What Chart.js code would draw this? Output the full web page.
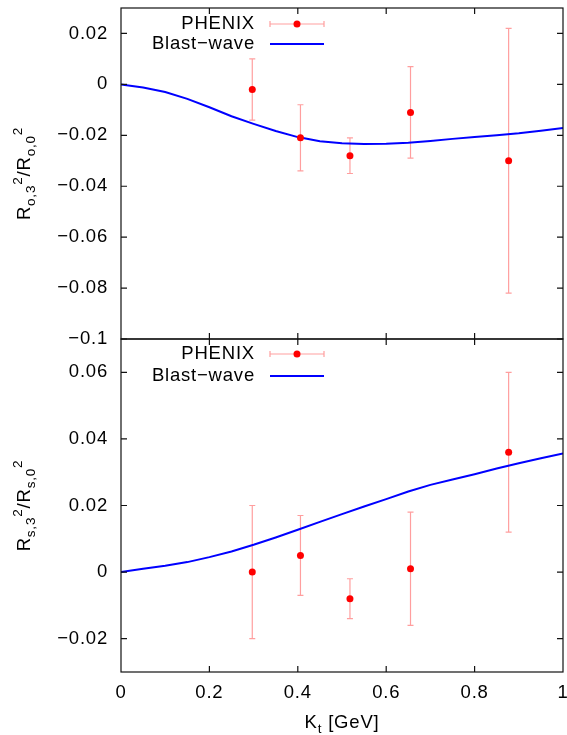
<!DOCTYPE html>
<html>
<head>
<meta charset="utf-8">
<script src="https://cdn.jsdelivr.net/npm/chart.js@4.4.1/dist/chart.umd.min.js"></script>
<style>
  html, body { margin: 0; padding: 0; background: #fff; overflow: hidden; }
  #wrap { position: relative; width: 567px; height: 735px; }
  canvas { position: absolute; left: 0; }
  #top { top: 0; }
  #bot { top: 330px; }
</style>
</head>
<body>
<div id="wrap">
  <canvas id="top" width="567" height="350"></canvas>
  <canvas id="bot" width="567" height="405"></canvas>
</div>
<script>
// PHENIX points (K_t in GeV)
const kt = [0.297, 0.406, 0.518, 0.655, 0.877];
// R_o,3^2 / R_o,0^2
const outVal = [-0.002, -0.021, -0.028, -0.011, -0.030];
const outHi  = [0.010, -0.008, -0.021, 0.007, 0.022];
const outLo  = [-0.014, -0.034, -0.035, -0.029, -0.082];
// R_s,3^2 / R_s,0^2
const sideVal = [0.000, 0.005, -0.008, 0.001, 0.036];
const sideHi  = [0.020, 0.017, -0.002, 0.018, 0.060];
const sideLo  = [-0.020, -0.007, -0.014, -0.016, 0.012];

// blast-wave curves
const bwKt = [0, 0.05, 0.1, 0.15, 0.2, 0.25, 0.3, 0.35, 0.4, 0.45, 0.5,
              0.55, 0.6, 0.65, 0.7, 0.75, 0.8, 0.85, 0.9, 0.95, 1.0];
const bwOut = [0, -0.0012, -0.003, -0.0057, -0.009, -0.0125, -0.0155, -0.0183, -0.0207, -0.0223, -0.0231,
               -0.0234, -0.0233, -0.0229, -0.0222, -0.0214, -0.0207, -0.0200, -0.0192, -0.0182, -0.0171];
const bwSide = [0, 0.001, 0.0019, 0.003, 0.0045, 0.0062, 0.0082, 0.0104, 0.0127, 0.0151, 0.0174,
                0.0197, 0.0219, 0.0242, 0.0262, 0.0278, 0.0294, 0.0311, 0.0327, 0.0342, 0.0356];

// tick values
const xTicks = [0, 0.2, 0.4, 0.6, 0.8, 1];
const outTicks = [-0.1, -0.08, -0.06, -0.04, -0.02, 0, 0.02];
const sideTicks = [-0.02, 0, 0.02, 0.04, 0.06];

const FONT = '"Liberation Sans", Arial, Helvetica, sans-serif';
const FS = 18.5;
const SPACING = '0.8px';

function fmt(v) {
  const r = Math.round(v * 1000) / 1000;
  return String(r).replace('-', '\u2212');
}

// draws text pieces one after another, with sub/superscripts
function richText(ctx, parts, x, y, align) {
  let w = 0;
  parts.forEach(p => { ctx.font = p.size + 'px ' + FONT; w += ctx.measureText(p.t).width; });
  let cx = align === 'center' ? x - w / 2 : x;
  ctx.textAlign = 'left';
  ctx.textBaseline = 'alphabetic';
  parts.forEach(p => {
    ctx.font = p.size + 'px ' + FONT;
    ctx.fillText(p.t, cx, y + p.dy);
    cx += ctx.measureText(p.t).width;
  });
}

function panelPlugin(cfg) {
  return {
    id: 'panel',
    beforeDraw(chart) {
      chart.ctx.letterSpacing = SPACING;
    },
    beforeDatasetsDraw(chart) {
      const { ctx, scales: { x, y } } = chart;
      ctx.save();
      ctx.strokeStyle = 'rgba(255,0,0,0.38)';
      ctx.lineWidth = 1.2;
      kt.forEach((k, i) => {
        const px = x.getPixelForValue(k);
        const y1 = y.getPixelForValue(cfg.hi[i]);
        const y2 = y.getPixelForValue(cfg.lo[i]);
        ctx.beginPath();
        ctx.moveTo(px, y1); ctx.lineTo(px, y2);
        ctx.moveTo(px - 3, y1); ctx.lineTo(px + 3, y1);
        ctx.moveTo(px - 3, y2); ctx.lineTo(px + 3, y2);
        ctx.stroke();
      });
      ctx.restore();
    },
    afterDraw(chart) {
      const { ctx, chartArea: a, scales: { x, y } } = chart;
      ctx.save();
      ctx.letterSpacing = SPACING;
      // border and inward ticks
      ctx.strokeStyle = '#111';
      ctx.lineWidth = 1.2;
      ctx.strokeRect(a.left, a.top, a.right - a.left, a.bottom - a.top);
      ctx.beginPath();
      y.ticks.forEach(t => {
        const py = y.getPixelForValue(t.value);
        ctx.moveTo(a.left, py); ctx.lineTo(a.left + 6, py);
        ctx.moveTo(a.right, py); ctx.lineTo(a.right - 6, py);
      });
      x.ticks.forEach(t => {
        if (t.value <= 0 || t.value >= 1) return;
        const px = x.getPixelForValue(t.value);
        ctx.moveTo(px, a.top); ctx.lineTo(px, a.top + 6);
        ctx.moveTo(px, a.bottom); ctx.lineTo(px, a.bottom - 6);
      });
      ctx.stroke();

      // key
      ctx.fillStyle = '#000';
      ctx.font = FS + 'px ' + FONT;
      ctx.textAlign = 'right';
      ctx.textBaseline = 'middle';
      const tx = a.left + 134, l0 = a.left + 149, l1 = a.left + 203;
      const k1 = a.top + cfg.key[0], k2 = a.top + cfg.key[1];
      ctx.fillText('PHENIX', tx, k1);
      ctx.fillText('Blast\u2212wave', tx, k2);
      ctx.strokeStyle = 'rgba(255,0,0,0.38)';
      ctx.lineWidth = 1.2;
      ctx.beginPath();
      ctx.moveTo(l0, k1); ctx.lineTo(l1, k1);
      ctx.moveTo(l0, k1 - 3); ctx.lineTo(l0, k1 + 3);
      ctx.moveTo(l1, k1 - 3); ctx.lineTo(l1, k1 + 3);
      ctx.stroke();
      ctx.fillStyle = '#ff0000';
      ctx.beginPath();
      ctx.arc((l0 + l1) / 2, k1, 3.5, 0, Math.PI * 2);
      ctx.fill();
      ctx.strokeStyle = '#0000ff';
      ctx.lineWidth = 2;
      ctx.beginPath();
      ctx.moveTo(l0, k2); ctx.lineTo(l1, k2);
      ctx.stroke();

      // y title
      ctx.fillStyle = '#000';
      ctx.save();
      ctx.translate(30, (a.top + a.bottom) / 2);
      ctx.rotate(-Math.PI / 2);
      const s = cfg.sub;
      richText(ctx, [
        { t: 'R', size: FS, dy: 0 },
        { t: s + ',3', size: 13.5, dy: 5 },
        { t: '2', size: 13.5, dy: -8 },
        { t: '/R', size: FS, dy: 0 },
        { t: s + ',0', size: 13.5, dy: 5 },
        { t: '2', size: 13.5, dy: -8 }
      ], 0, 0, 'center');
      ctx.restore();

      // x title
      if (cfg.showX) {
        const xc = (a.left + a.right) / 2;
        richText(ctx, [
          { t: 'K', size: FS, dy: 0 },
          { t: 't', size: 13.5, dy: 5 },
          { t: ' [GeV]', size: FS, dy: 0 }
        ], xc, a.bottom + 56, 'center');
      }
      ctx.restore();
    }
  };
}

function panel(id, cfg) {
  return new Chart(document.getElementById(id), {
    type: 'line',
    data: {
      datasets: [
        {
          label: 'Blast-wave',
          data: bwKt.map((k, i) => ({ x: k, y: cfg.bw[i] })),
          borderColor: '#0000ff',
          borderWidth: 2,
          pointRadius: 0,
          fill: false,
          tension: 0,
          order: 1
        },
        {
          label: 'PHENIX',
          data: kt.map((k, i) => ({ x: k, y: cfg.val[i] })),
          showLine: false,
          pointRadius: 3.5,
          pointBorderWidth: 0,
          backgroundColor: '#ff0000',
          borderColor: '#ff0000',
          order: 0
        }
      ]
    },
    options: {
      responsive: false,
      animation: false,
      devicePixelRatio: 1,
      layout: { padding: cfg.padding },
      plugins: { legend: { display: false }, tooltip: { enabled: false } },
      scales: {
        x: {
          type: 'linear', min: 0, max: 1,
          grid: { display: false, drawTicks: false },
          border: { display: false },
          ticks: {
            display: cfg.showX, maxRotation: 0, padding: 10,
            color: '#000', font: { family: FONT, size: FS }, callback: fmt
          },
          afterBuildTicks: s => { s.ticks = xTicks.map(v => ({ value: v })); },
          afterFit: s => { s.height = cfg.xHeight; s.paddingLeft = 0; s.paddingRight = 0; }
        },
        y: {
          type: 'linear', min: cfg.min, max: cfg.max,
          grid: { display: false, drawTicks: false },
          border: { display: false },
          ticks: {
            padding: 13,
            color: '#000', font: { family: FONT, size: FS }, callback: fmt
          },
          afterBuildTicks: s => { s.ticks = cfg.ticks.map(v => ({ value: v })); },
          afterFit: s => { s.width = 121; s.paddingTop = 0; s.paddingBottom = 0; }
        }
      }
    },
    plugins: [panelPlugin(cfg)]
  });
}

panel('top', {
  val: outVal, hi: outHi, lo: outLo, bw: bwOut, sub: 'o', ticks: outTicks,
  min: -0.1, max: 0.03, showX: false, xHeight: 11,
  padding: { left: 0, top: 8, right: 3, bottom: 0 },
  key: [16, 36]
});
panel('bot', {
  val: sideVal, hi: sideHi, lo: sideLo, bw: bwSide, sub: 's', ticks: sideTicks,
  min: -0.03, max: 0.07, showX: true, xHeight: 63,
  padding: { left: 0, top: 9, right: 3, bottom: 0 },
  key: [15, 37]
});
</script>
</body>
</html>
